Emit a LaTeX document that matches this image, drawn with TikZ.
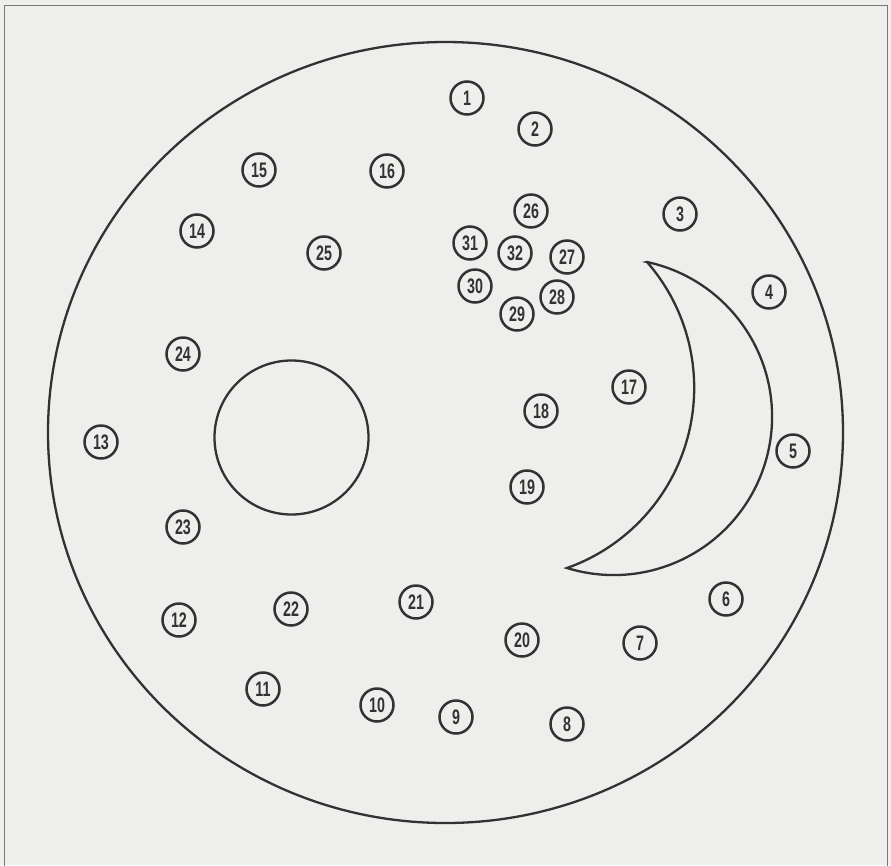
\documentclass[tikz,border=0pt]{standalone}
\usepackage{fontspec}
\newfontfamily\numfont{Liberation Sans}[FakeStretch=0.68]
\definecolor{paper}{RGB}{238,239,236}
\definecolor{ink}{RGB}{50,50,50}
\definecolor{framec}{RGB}{120,120,120}
\begin{document}
\begin{tikzpicture}[x=1pt,y=-1pt,
  shape line/.style={draw=ink,line width=2.3pt},
  num/.style={circle,draw=ink,line width=2.5pt,minimum size=33pt,inner sep=0pt,
    font=\numfont\bfseries\fontsize{21}{21}\selectfont,text=ink}]
\useasboundingbox (0,0) rectangle (891,865);
\fill[paper] (0,0) rectangle (891,865);
% frame
\draw[framec,line width=1pt] (4,866) -- (4,5) -- (887,5) -- (887,866);
% outer disc
\draw[shape line] (445.5,432.5) ellipse [x radius=397.5, y radius=390.5];
% inner circle
\draw[shape line] (291.5,437.5) circle [radius=77];
% crescent
\draw[shape line] (647,262) arc[start angle=-77.88, end angle=107.18, radius=158.3]
  arc[start angle=70.42, end angle=-41.11, radius=191.3] -- cycle;
% numbered markers
\node[num] (n1) at (467,98) {1};
\node[num] (n2) at (535,129) {2};
\node[num] (n3) at (680,214) {3};
\node[num] (n4) at (769,292) {4};
\node[num] (n5) at (793,451) {5};
\node[num] (n6) at (726,599) {6};
\node[num] (n7) at (640,643) {7};
\node[num] (n8) at (567,724) {8};
\node[num] (n9) at (456,717) {9};
\node[num] (n10) at (377,705) {10};
\node[num] (n11) at (263,689) {11};
\node[num] (n12) at (179,620) {12};
\node[num] (n13) at (101,442) {13};
\node[num] (n14) at (197,231) {14};
\node[num] (n15) at (259,170) {15};
\node[num] (n16) at (387,171) {16};
\node[num] (n17) at (629,387) {17};
\node[num] (n18) at (541,411) {18};
\node[num] (n19) at (527,487) {19};
\node[num] (n20) at (522,640) {20};
\node[num] (n21) at (416,602) {21};
\node[num] (n22) at (291,609) {22};
\node[num] (n23) at (183,527) {23};
\node[num] (n24) at (183,354) {24};
\node[num] (n25) at (324,253) {25};
\node[num] (n26) at (531,211) {26};
\node[num] (n27) at (567,257) {27};
\node[num] (n28) at (557,297) {28};
\node[num] (n29) at (517,314) {29};
\node[num] (n30) at (475,286) {30};
\node[num] (n31) at (470,243) {31};
\node[num] (n32) at (515,253) {32};
\end{tikzpicture}
\end{document}
